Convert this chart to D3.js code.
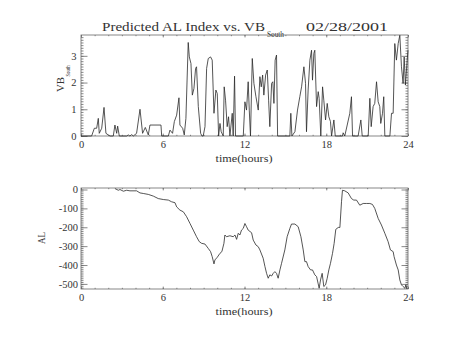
<!DOCTYPE html>
<html><head><meta charset="utf-8">
<script src="https://cdn.jsdelivr.net/npm/d3@7"></script>
<style>
html,body{margin:0;padding:0;background:#fff;}
svg{display:block;}
text{font-family:"Liberation Serif","DejaVu Serif",serif;fill:#333;}
</style></head>
<body>
<svg id="chart" width="454" height="341"></svg>
<script>
// ---------- data ----------
const xTickValues = [0, 6, 12, 18, 24];
const vbTickValues = [0, 1, 2, 3];
const alTickValues = [0, -100, -200, -300, -400, -500];

const vbTime = [
  0,0.78,0.98,1.15,1.27,1.34,1.52,1.69,1.83,2.0,
  2.13,2.37,2.49,2.62,2.69,2.81,3.35,3.47,3.59,3.72,
  3.84,4.08,4.33,4.52,4.72,4.94,5.06,5.87,5.92,6.41,
  6.53,6.72,6.85,7.02,7.19,7.26,7.46,7.58,7.70,7.87,
  7.95,8.07,8.17,8.29,8.41,8.48,8.61,8.78,8.88,8.97,
  9.10,9.22,9.34,9.51,9.63,9.76,9.90,10.0,10.10,10.2,
  10.29,10.44,10.51,10.61,10.73,10.83,10.93,11.1,11.17,11.27,
  11.34,11.91,12.03,12.15,12.27,12.35,12.44,12.57,12.69,12.84,
  13.01,13.13,13.23,13.33,13.42,13.55,13.67,13.77,13.86,13.99,
  14.08,14.16,14.25,14.35,14.43,15.33,15.40,15.48,15.70,15.89,
  16.06,16.19,16.36,16.48,16.55,16.67,16.80,16.92,16.99,17.09,
  17.16,17.29,17.41,17.48,17.60,17.73,17.82,17.95,18.07,18.19,
  18.31,18.39,18.56,18.66,19.19,19.24,19.36,19.73,19.85,19.93,
  20.34,20.54,20.64,21.08,21.2,21.30,21.44,21.56,21.69,21.81,
  21.93,22.0,22.13,22.22,22.30,22.67,22.79,22.91,23.03,23.15,
  23.28,23.40,23.52,23.64,23.72,23.81,23.94,24.0
];
const vbValue = [
  0,0,0.29,0.29,0.66,0.1,0.29,1.07,0.1,0.04,
  0,0,0.41,0.1,0.37,0,0,0.04,0,0.05,
  0,0.1,1.0,0.1,0.32,0.04,0.41,0.41,0,0,
  0.22,0.1,0.54,0.78,1.43,0.41,0.29,0.04,0.66,3.5,
  2.96,2.71,1.53,1.78,2.53,2.59,1.1,0.1,0,0,
  0.35,2.53,2.9,2.96,2.84,0.85,1.72,1.59,0,0.47,
  0.16,0,1.84,1.34,0.35,0.72,0,0.85,0,2.24,
  0,0,1.28,0.97,2.03,0.97,0,2.9,1.97,1.47,
  0.97,2.22,1.84,2.28,1.53,2.28,2.47,1.34,0.35,1.97,
  2.03,1.22,2.84,3.03,0,0,0.85,0,0.16,0.97,
  1.47,1.84,2.59,1.97,0.16,1.72,2.84,3.21,2.09,3.09,
  3.21,1.1,1.66,1.41,0,1.84,1.34,0.6,1.22,0.72,
  0.54,0,0.6,0,0,0.12,0,0.85,1.47,0,
  0,0.6,0,0,1.41,0.35,1.1,1.22,2.03,1.28,
  1.1,0.47,0.85,1.47,0,0,0.85,0.85,3.46,2.84,
  3.46,3.77,2.59,1.97,2.96,1.91,2.84,3.21
];

const alTime = [
  2.49,2.74,2.86,3.11,3.35,3.59,4.08,4.33,4.57,4.94,
  5.31,5.67,6.04,6.41,6.65,6.90,7.02,7.26,7.51,7.75,
  8.0,8.24,8.48,8.68,8.85,9.10,9.34,9.51,9.63,9.76,
  9.83,10.0,10.2,10.34,10.49,10.56,10.68,10.93,11.17,11.30,
  11.42,11.54,11.66,11.78,11.91,12.03,12.15,12.27,12.52,12.64,
  12.84,13.01,13.13,13.37,13.50,13.62,13.74,13.86,13.99,14.11,
  14.23,14.35,14.47,14.60,14.72,14.96,15.13,15.33,15.45,15.70,
  15.94,16.14,16.31,16.43,16.55,16.67,16.85,16.99,17.16,17.29,
  17.41,17.48,17.58,17.70,17.82,17.95,18.07,18.19,18.31,18.46,
  18.58,18.70,18.88,19.0,19.12,19.19,19.36,19.61,19.85,20.02,
  20.22,20.46,20.71,20.95,21.20,21.39,21.56,21.81,22.05,22.30,
  22.54,22.71,22.91,22.98,23.15,23.28,23.40,23.52,23.64,23.77,
  23.84,23.92
];
const alValue = [
  5,-4,0,-9,-4,-7,-7,-18,-21,-26,
  -35,-48,-53,-56,-65,-70,-92,-109,-118,-144,
  -180,-215,-250,-276,-285,-289,-312,-329,-356,-394,
  -373,-359,-338,-329,-285,-241,-250,-245,-250,-241,
  -264,-232,-241,-215,-206,-180,-197,-215,-229,-268,
  -294,-303,-320,-364,-408,-444,-470,-452,-458,-444,
  -435,-444,-470,-426,-391,-320,-250,-206,-183,-183,
  -197,-250,-320,-382,-382,-408,-426,-426,-452,-461,
  -500,-523,-479,-444,-514,-505,-470,-426,-391,-338,
  -285,-211,-201,-201,-65,-4,-7,-18,-48,-56,
  -56,-83,-74,-74,-74,-79,-100,-153,-188,-232,
  -276,-320,-329,-356,-400,-426,-479,-505,-514,-523,
  -505,-527
];

// ---------- drawing ----------
const svg = d3.select("#chart");
const axisColor = "#6a6a6a";
const lineColor = "#2a2a2a";

function panel(cfg) {
  const x = d3.scaleLinear().domain([0, 24]).range([cfg.left, cfg.right]);
  const y = d3.scaleLinear().domain(cfg.yDomain).range([cfg.bottom, cfg.top]);
  const g = svg.append("g");
  const W = cfg.right - cfg.left, H = cfg.bottom - cfg.top;
  const xMinor = d3.range(0, 25, 1);
  const yMinor = d3.range(Math.ceil(cfg.yDomain[0] / cfg.yMinorStep), Math.floor(cfg.yDomain[1] / cfg.yMinorStep) + 1)
                   .map(k => +(k * cfg.yMinorStep).toFixed(6));

  function styleAxis(sel) {
    sel.select(".domain").remove();
    sel.selectAll("line").attr("stroke", axisColor).attr("stroke-width", 0.8);
    sel.selectAll("text").style("font-family", '"Liberation Serif","DejaVu Serif",serif').attr("fill", "#333");
  }
  // bottom axis (labels)
  g.append("g").attr("transform", `translate(0,${cfg.bottom})`)
    .call(d3.axisBottom(x).tickValues(xMinor).tickSize(-1.2).tickFormat("")).call(styleAxis);
  g.append("g").attr("transform", `translate(0,${cfg.bottom})`)
    .call(d3.axisBottom(x).tickValues(xTickValues).tickSize(-2.4).tickPadding(5).tickFormat(d3.format("d")))
    .call(styleAxis).selectAll("text").attr("font-size", 10.5);
  // top axis
  g.append("g").attr("transform", `translate(0,${cfg.top})`)
    .call(d3.axisTop(x).tickValues(xMinor).tickSize(-1.2).tickFormat("")).call(styleAxis);
  g.append("g").attr("transform", `translate(0,${cfg.top})`)
    .call(d3.axisTop(x).tickValues(xTickValues).tickSize(-2.4).tickFormat("")).call(styleAxis);
  // left axis
  g.append("g").attr("transform", `translate(${cfg.left},0)`)
    .call(d3.axisLeft(y).tickValues(yMinor).tickSize(-2.5).tickFormat("")).call(styleAxis);
  g.append("g").attr("transform", `translate(${cfg.left},0)`)
    .call(d3.axisLeft(y).tickValues(cfg.yTicks).tickSize(-6.5).tickPadding(cfg.yPad).tickFormat(d => d3.format("d")(d).replace("−", "-")))
    .call(styleAxis).selectAll("text").attr("font-size", 10.5);
  // right axis
  g.append("g").attr("transform", `translate(${cfg.right},0)`)
    .call(d3.axisRight(y).tickValues(yMinor).tickSize(-2.5).tickFormat("")).call(styleAxis);
  g.append("g").attr("transform", `translate(${cfg.right},0)`)
    .call(d3.axisRight(y).tickValues(cfg.yTicks).tickSize(-6.5).tickFormat("")).call(styleAxis);
  // frame
  g.append("rect").attr("x", cfg.left).attr("y", cfg.top).attr("width", W).attr("height", H)
    .attr("fill", "none").attr("stroke", axisColor).attr("stroke-width", 0.8);

  // data line
  const pts = cfg.t.map((t, i) => [t, cfg.v[i]]);
  g.append("path").datum(pts)
    .attr("fill", "none").attr("stroke", lineColor).attr("stroke-width", 0.8)
    .attr("stroke-linejoin", "round")
    .attr("d", d3.line().x(d => x(d[0])).y(d => y(d[1])));

  // x title
  g.append("text").attr("x", (cfg.left + cfg.right) / 2 - 0.5).attr("y", cfg.bottom + 26)
    .attr("text-anchor", "middle").attr("font-size", 11)
    .attr("textLength", 57).attr("lengthAdjust", "spacingAndGlyphs")
    .text("time(hours)");
  return {x, y, g};
}

// top panel
const p1 = panel({left: 81, right: 408, top: 35, bottom: 136, yDomain: [0, 3.78],
  yTicks: vbTickValues, yMinorStep: 0.1, yPad: 4.5, t: vbTime, v: vbValue});
// bottom panel
const p2 = panel({left: 81, right: 408, top: 188, bottom: 289, yDomain: [-527, 8],
  yTicks: alTickValues, yMinorStep: 10, yPad: 3, t: alTime, v: alValue});

// title
const title = svg.append("g");
title.append("text").attr("x", 102).attr("y", 30.5).attr("font-size", 12.5)
  .attr("textLength", 163).attr("lengthAdjust", "spacingAndGlyphs")
  .text("Predicted AL Index vs. VB");
title.append("text").attr("x", 267).attr("y", 37).attr("font-size", 7.5)
  .attr("textLength", 17).attr("lengthAdjust", "spacingAndGlyphs")
  .text("South");
title.append("text").attr("x", 306).attr("y", 30.5).attr("font-size", 12.5)
  .attr("textLength", 82).attr("lengthAdjust", "spacingAndGlyphs")
  .text("02/28/2001");

// y titles
const yt1 = svg.append("g").attr("transform", "translate(64,92) rotate(-90)");
yt1.append("text").attr("x", 0).attr("y", 0).attr("font-size", 11)
  .attr("textLength", 15).attr("lengthAdjust", "spacingAndGlyphs").text("VB");
yt1.append("text").attr("x", 15.5).attr("y", 5.5).attr("font-size", 7)
  .attr("textLength", 11).attr("lengthAdjust", "spacingAndGlyphs").text("South");
svg.append("text").attr("transform", "translate(45,238) rotate(-90)")
  .attr("text-anchor", "middle").attr("font-size", 11)
  .attr("textLength", 12).attr("lengthAdjust", "spacingAndGlyphs").text("AL");
</script>
</body></html>
